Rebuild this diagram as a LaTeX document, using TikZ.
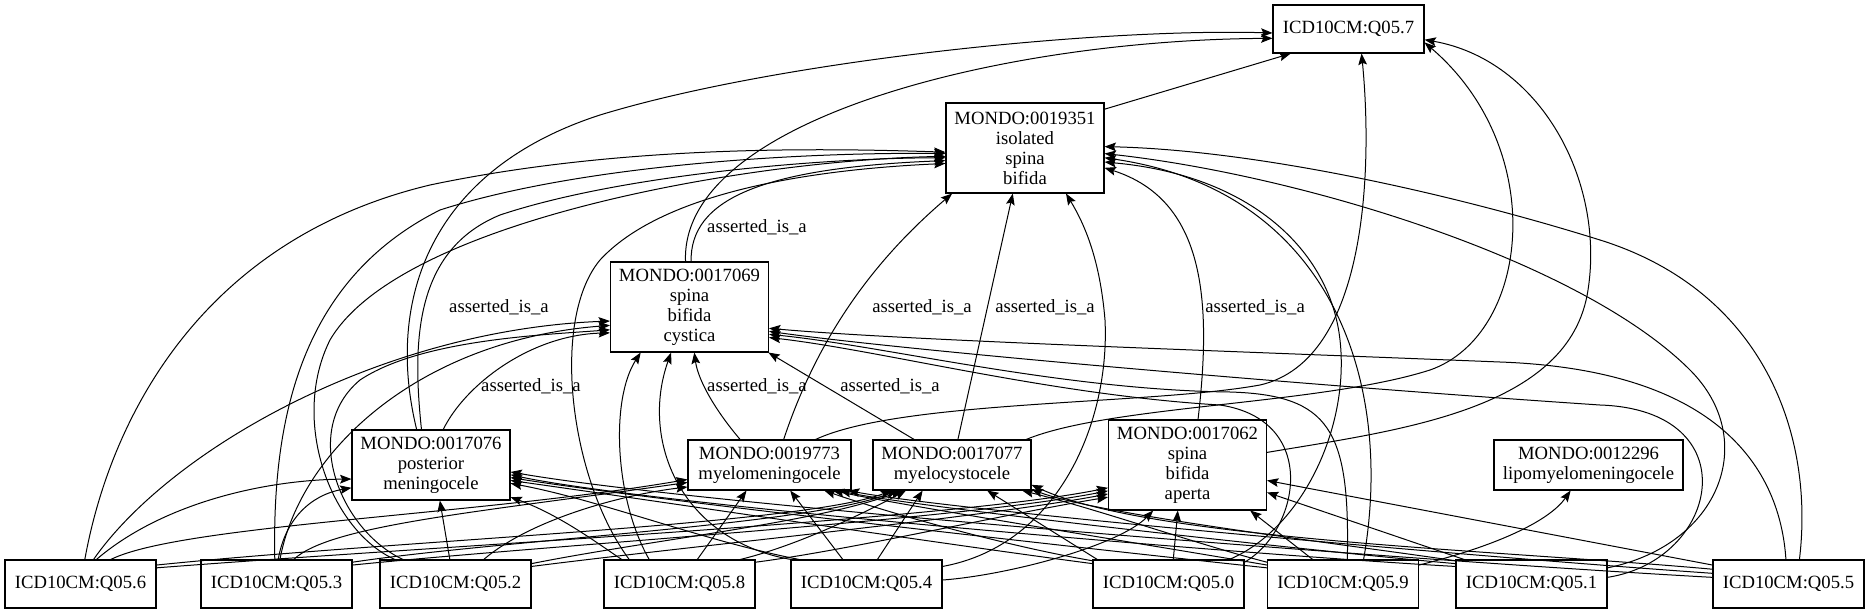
\documentclass[tikz,border=0pt]{standalone}
\usepackage{fontspec}
\setmainfont{Liberation Serif}
\usetikzlibrary{arrows.meta}
\begin{document}
\begin{tikzpicture}[
  x=0.75pt, y=-0.75pt,
  every node/.style={font=\fontsize{14}{15}\selectfont, align=center},
  box/.style={draw, line width=0.8pt, inner sep=2pt},
  icd/.style={box, minimum width=113.25pt, minimum height=36pt},
  mondo/.style={box, minimum width=118.5pt},
  link/.style={line width=0.75pt, -{Stealth[length=8.5pt,width=6.5pt,inset=1.5pt]}},
  lbl/.style={inner sep=0pt}
]
\useasboundingbox (0,0) rectangle (1869,613);

\node[icd] (q57) at (1348.5,29) {ICD10CM:Q05.7};
\node[mondo, minimum height=67.5pt] (m351) at (1025,148) {MONDO:0019351\\isolated\\spina\\bifida};
\node[mondo, minimum height=67.5pt] (m069) at (689.5,307) {MONDO:0017069\\spina\\bifida\\cystica};
\node[mondo, minimum height=52.5pt] (m076) at (431,465) {MONDO:0017076\\posterior\\meningocele};
\node[mondo, minimum width=122.25pt, minimum height=37.5pt] (m773) at (769.5,465) {MONDO:0019773\\myelomeningocele};
\node[mondo, minimum height=37.5pt] (m077) at (952,465) {MONDO:0017077\\myelocystocele};
\node[mondo, minimum height=67.5pt] (m062) at (1187.5,465) {MONDO:0017062\\spina\\bifida\\aperta};
\node[mondo, minimum width=141.75pt, minimum height=37.5pt] (m296) at (1588.5,465) {MONDO:0012296\\lipomyelomeningocele};

\node[icd] (q56) at (80.5,584) {ICD10CM:Q05.6};
\node[icd] (q53) at (276.5,584) {ICD10CM:Q05.3};
\node[icd] (q52) at (455.5,584) {ICD10CM:Q05.2};
\node[icd] (q58) at (679.5,584) {ICD10CM:Q05.8};
\node[icd] (q54) at (866.5,584) {ICD10CM:Q05.4};
\node[icd] (q50) at (1168.5,584) {ICD10CM:Q05.0};
\node[icd] (q59) at (1343,584) {ICD10CM:Q05.9};
\node[icd] (q51) at (1531.5,584) {ICD10CM:Q05.1};
\node[icd] (q55) at (1788.5,584) {ICD10CM:Q05.5};

\node[lbl] (l1) at (757,227) {asserted\_is\_a};
\node[lbl] (l2) at (499,307) {asserted\_is\_a};
\node[lbl] (l3) at (531,386) {asserted\_is\_a};
\node[lbl] (l4) at (757,386) {asserted\_is\_a};
\node[lbl] (l5) at (890,386) {asserted\_is\_a};
\node[lbl] (l6) at (922,307) {asserted\_is\_a};
\node[lbl] (l7) at (1045,307) {asserted\_is\_a};
\node[lbl] (l8) at (1255,307) {asserted\_is\_a};

\draw[link] (m069.88) .. controls (690,200) and (760,168) .. (m351.189);
\draw[link] (m076.105) .. controls (412,340) and (415,250) .. (500,215) .. controls (620,175) and (820,158) .. (m351.187);
\draw[link] (m076.71) .. controls (465,385) and (530,335) .. (m069.198);
\draw[link] (m773.139) .. controls (715,410) and (698,380) .. (m069.276);
\draw[link] (m077.146) -- (m069.330);
\draw[link] (m773.61) .. controls (820,330) and (880,255) .. (m351.212);
\draw[link] (m077.77) -- (m351.255);
\draw[link] (m062.77) .. controls (1212,300) and (1205,200) .. (m351.346);

\draw[link] (m076.112) .. controls (385,300) and (430,170) .. (600,115) .. controls (780,60) and (1100,28) .. (q57.183);
\draw[link] (m069.95) .. controls (680,120) and (1000,40) .. (q57.187);
\draw[link] (m351.26) -- (q57.203);
\draw[link] (m773.29) .. controls (900,400) and (1150,405) .. (1260,385) .. controls (1370,360) and (1372,160) .. (q57.298);
\draw[link] (m077.19) .. controls (1110,405) and (1320,405) .. (1430,370) .. controls (1530,335) and (1550,150) .. (q57.350);
\draw[link] (m062.9) .. controls (1400,430) and (1570,410) .. (1588,290) .. controls (1605,180) and (1540,60) .. (q57.352);

\draw[link] (q56.80) .. controls (110,420) and (200,240) .. (430,185) .. controls (620,145) and (820,148) .. (m351.183);
\draw[link] (q56.62) .. controls (170,450) and (380,330) .. (m069.190);
\draw[link] (q56.57) .. controls (160,505) and (260,480) .. (m076.190);
\draw[link] (q56.39) .. controls (180,525) and (480,515) .. (m773.190);
\draw[link] (q56.14) .. controls (400,540) and (800,525) .. (m077.203);
\draw[link] (q56.12) .. controls (450,545) and (950,520) .. (m062.196);

\draw[link] (q53.94) .. controls (272,420) and (300,280) .. (440,210) .. controls (580,165) and (800,152) .. (m351.184);
\draw[link] (q53.82) .. controls (300,450) and (420,340) .. (m069.193);
\draw[link] (q53.86) .. controls (285,520) and (310,495) .. (m076.196);
\draw[link] (q53.55) .. controls (330,525) and (480,512) .. (m773.192);
\draw[link] (q53.16) .. controls (500,540) and (810,525) .. (m077.205);
\draw[link] (q53.14) .. controls (550,545) and (960,520) .. (m062.198);

\draw[link] (q52.158) .. controls (330,530) and (290,420) .. (330,340) .. controls (400,220) and (750,160) .. (m351.186);
\draw[link] (q52.155) .. controls (340,530) and (300,430) .. (360,380) .. controls (420,340) and (540,335) .. (m069.196);
\draw[link] (q52.103) -- (m076.284);
\draw[link] (q52.41) .. controls (530,520) and (620,495) .. (m773.195);
\draw[link] (q52.15) .. controls (650,540) and (820,522) .. (m077.207);
\draw[link] (q52.13) .. controls (700,545) and (980,518) .. (m062.200);

\draw[link] (q58.154) .. controls (570,480) and (550,320) .. (600,260) .. controls (660,195) and (800,170) .. (m351.191);
\draw[link] (q58.141) .. controls (615,500) and (610,400) .. (m069.223);
\draw[link] (q58.157) .. controls (600,545) and (560,515) .. (m076.338);
\draw[link] (q58.54) -- (m773.228);
\draw[link] (q58.22) .. controls (800,545) and (870,510) .. (m077.209);
\draw[link] (q58.16) .. controls (850,550) and (1000,515) .. (m062.202);

\draw[link] (q54.13) .. controls (1060,545) and (1110,420) .. (1105,320) .. controls (1100,260) and (1085,225) .. (m351.312);
\draw[link] (q54.162) .. controls (680,540) and (640,440) .. (m069.248);
\draw[link] (q54.160) .. controls (700,540) and (600,500) .. (m076.347);
\draw[link] (q54.134) -- (m773.309);
\draw[link] (q54.66) -- (m077.221);
\draw[link] (q54.3) .. controls (1010,575) and (1120,545) .. (m062.233);

\draw[link] (q50.22) .. controls (1300,530) and (1350,430) .. (1340,340) .. controls (1330,250) and (1250,175) .. (m351.350);
\draw[link] (q50.16) .. controls (1300,530) and (1320,420) .. (1220,405) .. controls (1050,395) and (880,350) .. (m069.339);
\draw[link] (q50.161) -- (m077.324);
\draw[link] (q50.79) -- (m062.258);
\draw[link] (q50.163) .. controls (1000,545) and (880,510) .. (m773.335);
\draw[link] (q50.165) .. controls (950,545) and (650,500) .. (m076.349);

\draw[link] (q59.50) .. controls (1395,380) and (1330,190) .. (m351.353);
\draw[link] (q59.80) .. controls (1350,430) and (1330,395) .. (1230,392) .. controls (1060,390) and (880,345) .. (m069.341);
\draw[link] (q59.14) .. controls (1500,545) and (1550,520) .. (m296.235);
\draw[link] (q59.141) -- (m062.324);
\draw[link] (q59.164) .. controls (1200,545) and (1100,510) .. (m077.340);
\draw[link] (q59.166) .. controls (1150,545) and (900,505) .. (m773.338);
\draw[link] (q59.168) .. controls (1100,550) and (650,500) .. (m076.351);

\draw[link] (q51.12) .. controls (1720,545) and (1760,440) .. (1690,370) .. controls (1580,260) and (1300,175) .. (m351.356);
\draw[link] (q51.5) .. controls (1720,560) and (1750,410) .. (1600,405) .. controls (1300,385) and (900,350) .. (m069.343);
\draw[link] (q51.160) -- (m062.341);
\draw[link] (q51.163) .. controls (1350,545) and (1100,515) .. (m077.343);
\draw[link] (q51.165) .. controls (1300,550) and (900,505) .. (m773.340);
\draw[link] (q51.167) .. controls (1250,555) and (650,505) .. (m076.353);

\draw[link] (q55.66) .. controls (1815,430) and (1760,290) .. (1600,240) .. controls (1440,190) and (1250,150) .. (m351.1);
\draw[link] (q55.96) .. controls (1780,470) and (1720,370) .. (1500,362) .. controls (1200,350) and (900,340) .. (m069.345);
\draw[link] (q55.166) -- (m062.349);
\draw[link] (q55.169) .. controls (1500,550) and (1150,540) .. (m077.346);
\draw[link] (q55.172) .. controls (1450,555) and (950,510) .. (m773.342);
\draw[link] (q55.175) .. controls (1400,560) and (700,505) .. (m076.355);
\end{tikzpicture}
\end{document}
